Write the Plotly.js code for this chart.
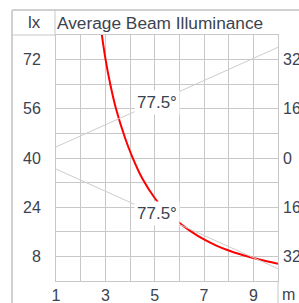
<!DOCTYPE html>
<html>
<head>
<meta charset="utf-8">
<script src="https://cdn.plot.ly/plotly-3.0.1.min.js"></script>
<style>html,body{margin:0;padding:0;background:#fff;}#chart{width:299px;height:303px;}</style>
</head>
<body>
<div id="chart"></div>
<script>
// ---- data ----
var curveDistance = [2.85, 3.0, 3.2, 3.45, 3.8, 4.1, 4.5, 5.0, 5.5, 6.0, 6.5, 7.0, 7.5, 8.0, 8.5, 9.0, 9.5, 10.0];
var curveLux      = [80.5, 72.5, 64, 55.5, 46.5, 40.2, 33.3, 27, 22.5, 18.9, 16.0, 13.5, 11.5, 9.9, 8.6, 7.5, 6.5, 5.6];
var beamDistance  = [1, 10];
var beamUpper     = [3.6, 36];
var beamLower     = [-3.6, -36];
var beamAngleText = "77.5°";
var xTickVals  = [1, 2, 3, 4, 5, 6, 7, 8, 9, 10];
var xTickText  = ["1", "", "3", "", "5", "", "7", "", "9", ""];
var yTickVals  = [0, 8, 16, 24, 32, 40, 48, 56, 64, 72, 80];
var yTickText  = ["", "8", "", "24", "", "40", "", "56", "", "72", ""];
var y2TickVals = [-32, -16, 0, 16, 32];
var y2TickText = ["32", "16", "0", "16", "32"];
var titleText = "Average Beam Illuminance";
var yUnit = "lx";
var xUnit = "m";

// ---- layout helpers (pixel -> paper) ----
var L = 56, R = 278, T = 35, B = 281;
function u(px) { return (px - L) / (R - L); }
function v(py) { return (B - py) / (B - T); }

var txt = '#3b4350';
var grid = '#c8c8c8';
var FONT = 'Liberation Sans, Arial, Helvetica, sans-serif';

var traces = [
  {x: beamDistance, y: beamUpper, yaxis: 'y2', mode: 'lines', line: {color: '#cccccc', width: 1}, hoverinfo: 'skip'},
  {x: beamDistance, y: beamLower, yaxis: 'y2', mode: 'lines', line: {color: '#cccccc', width: 1}, hoverinfo: 'skip'},
  {x: curveDistance, y: curveLux, mode: 'lines', line: {color: '#ff0000', width: 2, shape: 'spline', smoothing: 0.8}, hoverinfo: 'skip'}
];

function seg(x0, y0, x1, y1, w, c) {
  return {type: 'line', xref: 'paper', yref: 'paper', x0: u(x0), y0: v(y0), x1: u(x1), y1: v(y1),
          line: {color: c || grid, width: w || 1}, layer: 'above'};
}

var layout = {
  width: 299, height: 303,
  margin: {l: L, r: 299 - R, t: T, b: 303 - B},
  paper_bgcolor: '#fff', plot_bgcolor: '#fff',
  showlegend: false,
  font: {family: FONT, color: txt, size: 16},
  title: {text: titleText, xref: 'container', x: 57 / 299, xanchor: 'left',
          yref: 'container', y: 1 - 23 / 303, yanchor: 'middle',
          font: {family: FONT, size: 17.3, color: txt}},
  xaxis: {range: [1, 10], tickvals: xTickVals, ticktext: xTickText, showgrid: true, gridcolor: grid,
          gridwidth: 1, zeroline: false, showline: true, linecolor: grid, linewidth: 1, mirror: true,
          ticks: '', ticklabelstandoff: 0, tickfont: {size: 16, color: txt}, fixedrange: true},
  yaxis: {range: [0, 80], tickvals: yTickVals, ticktext: yTickText, showgrid: true, gridcolor: grid,
          gridwidth: 1, zeroline: false, showline: true, linecolor: grid, linewidth: 1, mirror: true,
          ticks: '', ticklabelstandoff: 11, tickfont: {size: 16, color: txt}, fixedrange: true},
  yaxis2: {range: [-40, 40], overlaying: 'y', side: 'right', tickvals: y2TickVals, ticktext: y2TickText,
           showgrid: false, zeroline: false, showline: false, ticks: '', ticklabelstandoff: 4,
           tickfont: {size: 16, color: txt}, fixedrange: true},
  shapes: [
    seg(12, 10, 299, 10, 2, '#d0d0d0'),
    seg(12, 10, 12, 303, 2, '#d0d0d0'),
    seg(12, 35, 56, 35, 1),
    seg(55, 10, 55, 35, 1),
    seg(278, 281, 278, 303, 1)
  ],
  annotations: [
    {xref: 'paper', yref: 'paper', x: u(34), y: v(22), text: yUnit, showarrow: false,
     xanchor: 'center', yanchor: 'middle', font: {size: 17, color: txt}},
    {xref: 'paper', yref: 'paper', x: u(288), y: v(294), text: xUnit, showarrow: false,
     xanchor: 'center', yanchor: 'middle', font: {size: 16, color: txt}},
    {xref: 'x', yref: 'y2', x: 5.1, y: 18.0, text: beamAngleText, showarrow: false,
     bgcolor: '#ffffff', borderpad: 2, xanchor: 'center', yanchor: 'middle', font: {size: 17, color: txt}},
    {xref: 'x', yref: 'y2', x: 5.1, y: -17.9, text: beamAngleText, showarrow: false,
     bgcolor: '#ffffff', borderpad: 2, xanchor: 'center', yanchor: 'middle', font: {size: 17, color: txt}}
  ]
};

Plotly.newPlot('chart', traces, layout, {staticPlot: true, displayModeBar: false});
</script>
</body>
</html>
